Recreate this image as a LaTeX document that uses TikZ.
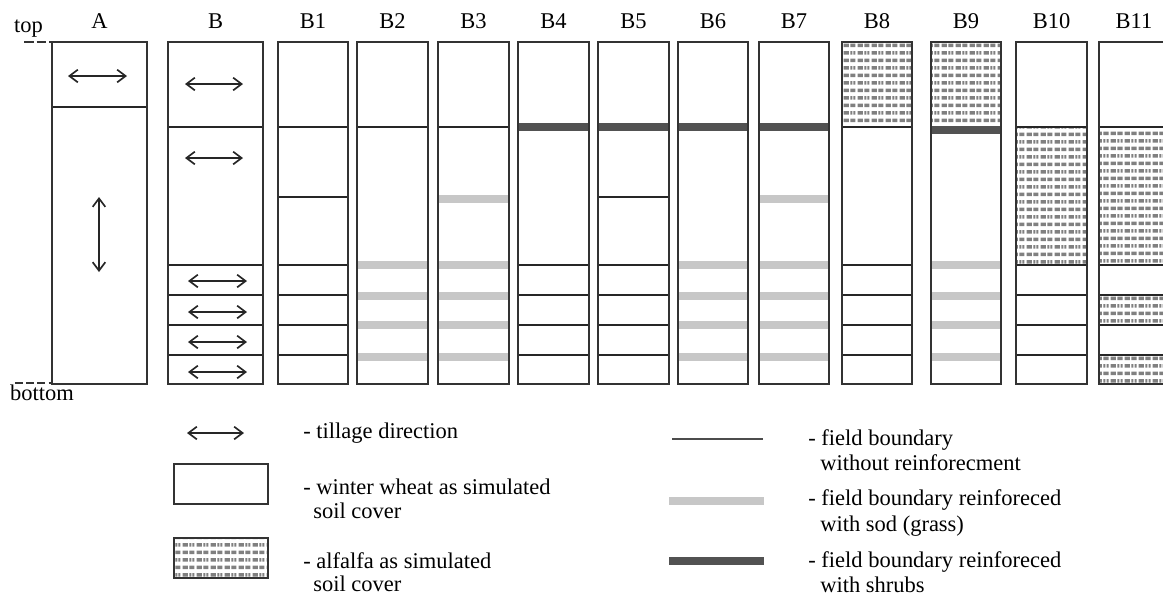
\documentclass[tikz,border=0pt]{standalone}
\usepackage{fontspec}
\setmainfont{Liberation Serif}
\usetikzlibrary{arrows.meta,patterns}

% small gray dashes for the alfalfa cover
\pgfdeclarepatternformonly{alfalfa}{\pgfqpoint{0pt}{0pt}}{\pgfqpoint{10pt}{10.6pt}}{\pgfqpoint{10pt}{10.6pt}}{%
  \pgfpathrectangle{\pgfqpoint{0.5pt}{0.7pt}}{\pgfqpoint{3.9pt}{2.5pt}}
  \pgfpathrectangle{\pgfqpoint{5.5pt}{0.7pt}}{\pgfqpoint{3.9pt}{2.5pt}}
  \pgfpathrectangle{\pgfqpoint{0.5pt}{6.0pt}}{\pgfqpoint{3.9pt}{2.5pt}}
  \pgfpathrectangle{\pgfqpoint{5.5pt}{6.0pt}}{\pgfqpoint{1.5pt}{2.5pt}}
  \pgfpathrectangle{\pgfqpoint{7.9pt}{6.0pt}}{\pgfqpoint{1.5pt}{2.5pt}}
  \pgfusepath{fill}}

\begin{document}
\begin{tikzpicture}[x=0.25cm,y=-0.25cm,inner sep=0pt,font=\fontsize{16}{18}\selectfont,
	>={Straight Barb[length=6pt,width=9pt,line width=1.2pt]}]
	\tikzset{col/.style={draw=black!80,line width=1.2pt}}
	\tikzset{plain/.style={draw=black!85,line width=0.9pt}}
	\tikzset{sod/.style={draw=black!22,line width=5.6pt}}
	\tikzset{shrub/.style={draw=black!68,line width=5.6pt}}
	\tikzset{alf/.style={pattern=alfalfa,pattern color=black!50}}
	\tikzset{till/.style={<->,line width=1.2pt,draw=black!85}}
	\useasboundingbox (0,0) rectangle (116.3,59.9);
	\clip (0,0) rectangle (116.3,59.9);

	% alfalfa cover
	\fill[alf] (84.2,4.2) rectangle (91.2,12.6);
	\fill[alf] (93.1,4.2) rectangle (100.1,12.7);
	\fill[alf] (101.6,12.6) rectangle (108.7,26.4);
	\fill[alf] (109.9,12.7) rectangle (116.9,26.5) (109.9,29.5) rectangle (116.9,32.5)
	           (109.9,35.5) rectangle (116.9,38.4);

	% field boundaries
	\draw[plain] (5.2,10.7) -- (14.7,10.7);
	\foreach \l/\r in {16.8/26.3,27.8/34.8,35.7/42.8,43.8/50.9,84.2/91.2,101.6/108.7,109.9/116.9}
		\draw[plain] (\l,12.7) -- (\r,12.7);
	\foreach \l/\r in {51.8/58.9,59.8/66.9,67.8/74.8,75.9/82.9}
		\draw[shrub] (\l,12.7) -- (\r,12.7);
	\draw[shrub] (93.1,13.0) -- (100.1,13.0);
	\draw[plain] (27.8,19.7) -- (34.8,19.7) (59.8,19.7) -- (66.9,19.7);
	\draw[sod] (43.8,19.9) -- (50.9,19.9) (75.9,19.9) -- (82.9,19.9);
	\foreach \l/\r in {16.8/26.3,27.8/34.8,51.8/58.9,59.8/66.9,84.2/91.2,101.6/108.7,109.9/116.9}
		\foreach \y in {26.5,29.5,32.5,35.5}
			\draw[plain] (\l,\y) -- (\r,\y);
	\foreach \l/\r in {35.7/42.8,43.8/50.9,67.8/74.8,75.9/82.9,93.1/100.1}
		\foreach \y in {26.5,29.6,32.5,35.7}
			\draw[sod] (\l,\y) -- (\r,\y);

	% columns and their names
	\foreach \n/\l/\r in {A/5.2/14.7,B/16.8/26.3,B1/27.8/34.8,B2/35.7/42.8,B3/43.8/50.9,
			B4/51.8/58.9,B5/59.8/66.9,B6/67.8/74.8,B7/75.9/82.9,B8/84.2/91.2,
			B9/93.1/100.1,B10/101.6/108.7,B11/109.9/116.9}{
		\draw[col] (\l,4.2) rectangle (\r,38.4);
		\node[anchor=base] (lab\n) at ({(\l+\r)/2},2.8) {\n};
	}

	% tillage
	\draw[till] (6.8,7.6) -- (12.7,7.6);
	\draw[till] (9.9,19.7) -- (9.9,27.2);
	\draw[till] (18.5,8.4) -- (24.3,8.4);
	\draw[till] (18.5,15.8) -- (24.3,15.8);
	\foreach \y in {28.1,31.2,34.2,37.2}
		\draw[till] (18.8,\y) -- (24.7,\y);

	\node[anchor=base] (top) at (2.85,3.2) {top};
	\draw[black!80,line width=0.8pt,dash pattern=on 7pt off 2pt] (2.4,4.2) -- (5.2,4.2);
	\node[anchor=base] (bottom) at (4.2,40.0) {bottom};
	\draw[black!80,line width=0.8pt,dash pattern=on 5.5pt off 2.5pt] (1.5,38.3) -- (5.2,38.3);

	% legend
	\draw[till] (18.7,43.3) -- (24.4,43.3);
	\node[anchor=base west] (tillTxt) at (30.3,43.8) {- tillage direction};
	\draw[col] (17.4,46.4) rectangle (26.8,50.4);
	\node[anchor=base west] (wheatTxt) at (30.3,49.4) {- winter wheat as simulated};
	\node[anchor=base west] (wheatTxtb) at (31.3,51.8) {soil cover};
	\fill[alf] (17.4,53.8) rectangle (26.8,57.8);
	\draw[col] (17.4,53.8) rectangle (26.8,57.8);
	\node[anchor=base west] (alfTxt) at (30.3,56.8) {- alfalfa as simulated};
	\node[anchor=base west] (alfTxtb) at (31.3,59.1) {soil cover};

	\draw[draw=black!70,line width=1.4pt] (67.2,43.9) -- (76.3,43.9);
	\node[anchor=base west] (plainTxt) at (80.8,44.5) {- field boundary};
	\node[anchor=base west] (plainTxtb) at (82.0,47.0) {without reinforecment};
	\draw[sod] (66.9,50.1) -- (76.4,50.1);
	\node[anchor=base west] (sodTxt) at (80.8,50.5) {- field boundary reinforeced};
	\node[anchor=base west] (sodTxtb) at (82.0,53.1) {with sod (grass)};
	\draw[shrub] (66.9,56.1) -- (76.4,56.1);
	\node[anchor=base west] (shrubTxt) at (80.8,56.7) {- field boundary reinforeced};
	\node[anchor=base west] (shrubTxtb) at (82.0,59.2) {with shrubs};
\end{tikzpicture}
\end{document}
